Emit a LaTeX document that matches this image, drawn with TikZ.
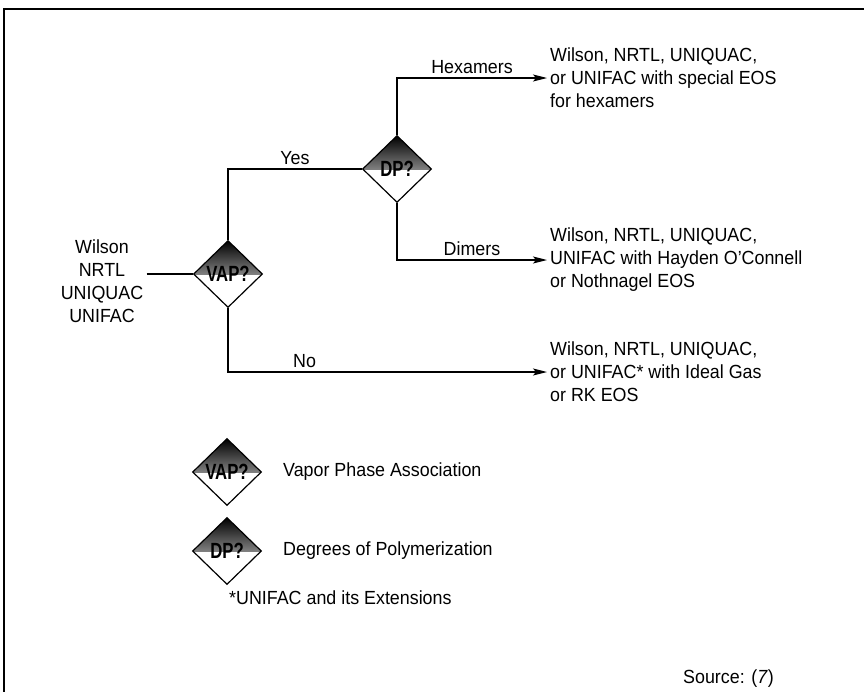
\documentclass[tikz,border=0pt]{standalone}
\usepackage{fontspec}
\setmainfont[FakeStretch=0.94]{Liberation Sans}
\newfontfamily\diafont[FakeStretch=0.76]{Liberation Sans}
\usetikzlibrary{shapes.geometric,arrows.meta}

\begin{document}
\begin{tikzpicture}[
    x=1pt, y=-1pt,
    font=\fontsize{19}{23}\selectfont,
    decision/.style={
        diamond,
        draw=black,
        line width=1.2pt,
        minimum width=69pt,
        minimum height=67pt,
        inner sep=0pt,
        path picture={
            \shade[top color=black, bottom color=white]
                (path picture bounding box.north west) rectangle
                (path picture bounding box.east);
        }
    },
    dtext/.style={
        font=\diafont\bfseries\fontsize{22}{22}\selectfont,
        inner sep=0pt
    },
    choice/.style={
        align=left,
        anchor=west,
        inner sep=3pt
    },
    branch/.style={
        draw=black,
        line width=1.2pt
    },
    arrow/.style={
        branch,
        -{Stealth[length=14pt,width=7pt,inset=3pt]}
    },
    lbl/.style={
        above,
        inner sep=4pt
    },
    keytext/.style={
        anchor=west,
        inner sep=0pt
    }
]

\useasboundingbox (0,0) rectangle (864,691);

% Rahmen
\draw[line width=1.5pt] (4,9) rectangle (900,720);

% Modelle links
\node[align=center] (models) at (102,281) {Wilson\\NRTL\\UNIQUAC\\UNIFAC};

% Entscheidungen
\node[decision, label={[dtext]center:VAP?}] (vap) at (228,274) {};
\node[decision, label={[dtext]center:DP?}] (dp) at (397,169) {};

% Ergebnisse
\node[choice] (hexa) at (547,78) {Wilson, NRTL, UNIQUAC,\\or UNIFAC with special EOS\\for hexamers};
\node[choice] (dimer) at (547,260) {Wilson, NRTL, UNIQUAC,\\UNIFAC with Hayden O'Connell\\or Nothnagel EOS};
\node[choice] (ideal) at (547,372) {Wilson, NRTL, UNIQUAC,\\or UNIFAC* with Ideal Gas\\or RK EOS};

% Verbindungen
\draw[branch] (models.east |- vap.west) -- (vap.west);
\draw[branch] (vap.north) |- node[lbl, pos=0.75] (yes) {Yes} (dp.west);
\draw[arrow] (dp.north) |- node[lbl, pos=0.75] (hex) {Hexamers} (hexa.west);
\draw[arrow] (dp.south) |- node[lbl, pos=0.75] (dim) {Dimers} (dimer.west);
\draw[arrow] (vap.south) |- node[lbl, pos=0.62] (no) {No} (ideal.west);

% Legende
\node[decision, label={[dtext]center:VAP?}] (keyvap) at (227,472) {};
\node[keytext] (keyvaptxt) at (283,472) {Vapor Phase Association};
\node[decision, label={[dtext]center:DP?}] (keydp) at (227,551) {};
\node[keytext] (keydptxt) at (283,551) {Degrees of Polymerization};
\node[keytext] (note) at (229,598) {*UNIFAC and its Extensions};
\node[keytext] (source) at (683,679) {Source: (\textit{7})};

\end{tikzpicture}
\end{document}
